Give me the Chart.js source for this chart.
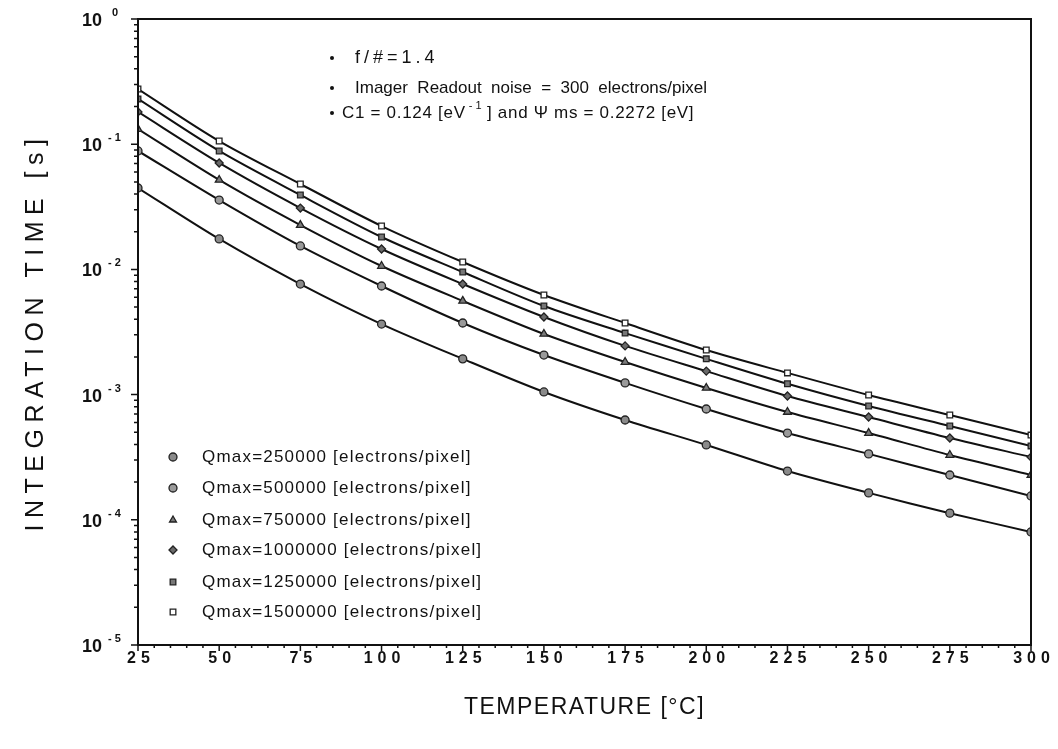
<!DOCTYPE html>
<html>
<head>
<meta charset="utf-8">
<script src="https://cdn.jsdelivr.net/npm/chart.js@4.4.0/dist/chart.umd.min.js"></script>
<style>
  html, body { margin: 0; padding: 0; background: #fff; }
  #wrap { width: 1058px; height: 749px; }
</style>
</head>
<body>
<div id="wrap"><canvas id="chart"></canvas></div>
<script>
// Temperatures [°C] and integration times [s] per full-well charge
const temperatures = [25, 50, 75, 100, 125, 150, 175, 200, 225, 250, 275, 300];
const q250k  = [0.0447, 0.0175, 0.00764, 0.00366, 0.00193, 0.00105, 0.000627, 0.000396, 0.000245, 0.000164, 0.000113, 0.0000800];
const q500k  = [0.0883, 0.0358, 0.0154, 0.00737, 0.00373, 0.00207, 0.00124, 0.000767, 0.000493, 0.000336, 0.000228, 0.000155];
const q750k  = [0.132, 0.0518, 0.0226, 0.01064, 0.00560, 0.00305, 0.00182, 0.00113, 0.000726, 0.000493, 0.000329, 0.000228];
const q1000k = [0.181, 0.0708, 0.0309, 0.01456, 0.00764, 0.00417, 0.00245, 0.00154, 0.000975, 0.000662, 0.000450, 0.000317];
const q1250k = [0.230, 0.0883, 0.0393, 0.01815, 0.00953, 0.00510, 0.00310, 0.00193, 0.00122, 0.000811, 0.000561, 0.000389];
const q1500k = [0.276, 0.106, 0.0481, 0.0222, 0.01146, 0.00625, 0.00373, 0.00227, 0.00149, 0.000993, 0.000687, 0.000475];

const seriesLabels = [
  'Qmax=250000 [electrons/pixel]',
  'Qmax=500000 [electrons/pixel]',
  'Qmax=750000 [electrons/pixel]',
  'Qmax=1000000 [electrons/pixel]',
  'Qmax=1250000 [electrons/pixel]',
  'Qmax=1500000 [electrons/pixel]'
];
const xTickValues = [25, 50, 75, 100, 125, 150, 175, 200, 225, 250, 275, 300];
const yExponents = [0, -1, -2, -3, -4, -5];

// marker look for each curve
const markers = [
  { style: 'circle',   radius: 4,   fill: '#8a8a8a' },
  { style: 'circle',   radius: 4,   fill: '#9a9a9a' },
  { style: 'triangle', radius: 4.5, fill: '#7a7a7a' },
  { style: 'rectRot',  radius: 4,   fill: '#6a6a6a' },
  { style: 'rect',     radius: 4,   fill: '#777777' },
  { style: 'rect',     radius: 4,   fill: '#ffffff' }
];

const seriesData = [q250k, q500k, q750k, q1000k, q1250k, q1500k];

const datasets = seriesData.map((vals, i) => ({
  label: seriesLabels[i],
  data: vals.map((v, j) => ({ x: temperatures[j], y: v })),
  borderColor: '#111',
  borderWidth: 2,
  tension: 0.3,
  pointStyle: markers[i].style,
  pointRadius: markers[i].radius,
  pointBackgroundColor: markers[i].fill,
  pointBorderColor: '#222',
  pointBorderWidth: 1.3
}));

const FONT = '"Liberation Sans", Arial, sans-serif';

// draws a run of text pieces, some of them raised and smaller
function drawRun(ctx, x, y, pieces) {
  for (const p of pieces) {
    ctx.font = p.font;
    ctx.letterSpacing = p.spacing || '0px';
    ctx.fillText(p.text, x, y + (p.dy || 0));
    x += ctx.measureText(p.text).width;
  }
  ctx.letterSpacing = '0px';
  return x;
}

const decorations = {
  id: 'decorations',
  afterDraw(chart) {
    const ctx = chart.ctx;
    const xs = chart.scales.x, ys = chart.scales.y;
    const a = chart.chartArea;
    ctx.save();
    ctx.strokeStyle = '#111';
    ctx.fillStyle = '#111';

    // frame
    ctx.lineWidth = 2;
    ctx.strokeRect(a.left, a.top, a.right - a.left, a.bottom - a.top);

    // y ticks: decades long, 2..9 short
    ctx.lineWidth = 1.5;
    ctx.beginPath();
    for (let e = -5; e <= 0; e++) {
      const py = ys.getPixelForValue(Math.pow(10, e));
      ctx.moveTo(a.left, py); ctx.lineTo(a.left - 7, py);
      if (e < 0) {
        for (let m = 2; m <= 9; m++) {
          const pm = ys.getPixelForValue(m * Math.pow(10, e));
          ctx.moveTo(a.left, pm); ctx.lineTo(a.left - 4, pm);
        }
      }
    }
    // x ticks: every 25 long, every 5 short
    for (let t = 25; t <= 300; t += 5) {
      const px = xs.getPixelForValue(t);
      const len = (t % 25 === 0) ? 6 : 3;
      ctx.moveTo(px, a.bottom); ctx.lineTo(px, a.bottom + len);
    }
    ctx.stroke();

    // y tick labels 10^n
    ctx.textBaseline = 'alphabetic';
    ctx.textAlign = 'left';
    for (const e of yExponents) {
      const py = ys.getPixelForValue(Math.pow(10, e));
      ctx.font = 'bold 18px ' + FONT;
      ctx.fillText('10', 82, py + 7);
      ctx.font = 'bold 11px ' + FONT;
      ctx.fillText(e === 0 ? '0' : '- ' + (-e), e === 0 ? 112 : 108, py - 3);
    }

    // x tick labels
    ctx.font = 'bold 16px ' + FONT;
    ctx.letterSpacing = '5px';
    ctx.textAlign = 'center';
    ctx.textBaseline = 'middle';
    for (const t of xTickValues) {
      ctx.fillText(String(t), xs.getPixelForValue(t) + 3, a.bottom + 14);
    }
    ctx.letterSpacing = '0px';

    // axis titles
    ctx.font = '23px ' + FONT;
    ctx.letterSpacing = '1.5px';
    ctx.fillText('TEMPERATURE [°C]', (a.left + a.right) / 2, 708);
    ctx.save();
    ctx.translate(36, (a.top + a.bottom) / 2);
    ctx.rotate(-Math.PI / 2);
    ctx.font = '25px ' + FONT;
    ctx.letterSpacing = '6.5px';
    ctx.fillText('INTEGRATION TIME [s]', 0, 0);
    ctx.restore();
    ctx.letterSpacing = '0px';

    // notes block
    ctx.textAlign = 'left';
    ctx.textBaseline = 'middle';
    const noteFont = '17px ' + FONT;
    const bullet = (bx, by) => { ctx.beginPath(); ctx.arc(bx, by, 2, 0, Math.PI * 2); ctx.fill(); };
    bullet(332, 58);
    drawRun(ctx, 355, 58, [{ text: 'f/#=1.4', font: '18px ' + FONT, spacing: '4px' }]);
    bullet(332, 88);
    drawRun(ctx, 355, 88, [{ text: 'Imager  Readout  noise  =  300  electrons/pixel', font: noteFont }]);
    bullet(332, 113);
    drawRun(ctx, 342, 113, [
      { text: 'C1 = 0.124 [eV', font: noteFont, spacing: '0.7px' },
      { text: ' - 1', font: '11px ' + FONT, dy: -7 },
      { text: ' ] and \u03A8 ms = 0.2272 [eV]', font: noteFont, spacing: '0.7px' }
    ]);

    // legend
    const rows = [457, 488, 520, 550, 582, 612];
    datasets.forEach((ds, i) => {
      ctx.fillStyle = markers[i].fill;
      ctx.strokeStyle = '#222';
      ctx.lineWidth = 1.3;
      Chart.helpers.drawPoint(ctx, { pointStyle: markers[i].style, radius: 4, rotation: 0, borderWidth: 1.3 }, 173, rows[i]);
      ctx.fillStyle = '#111';
      ctx.font = '17px ' + FONT;
      ctx.letterSpacing = '1.2px';
      ctx.fillText(ds.label, 202, rows[i]);
      ctx.letterSpacing = '0px';
    });

    ctx.restore();
  }
};

new Chart(document.getElementById('chart'), {
  type: 'line',
  data: { datasets },
  options: {
    responsive: true,
    maintainAspectRatio: false,
    animation: false,
    layout: { padding: { left: 138, top: 19, right: 27, bottom: 104 } },
    plugins: { legend: { display: false }, tooltip: { enabled: false } },
    scales: {
      x: {
        type: 'linear', min: 25, max: 300,
        grid: { display: false, drawTicks: false },
        border: { display: false },
        ticks: { display: false }
      },
      y: {
        type: 'logarithmic', min: 1e-5, max: 1,
        grid: { display: false, drawTicks: false },
        border: { display: false },
        ticks: { display: false }
      }
    }
  },
  plugins: [decorations]
});
</script>
</body>
</html>
